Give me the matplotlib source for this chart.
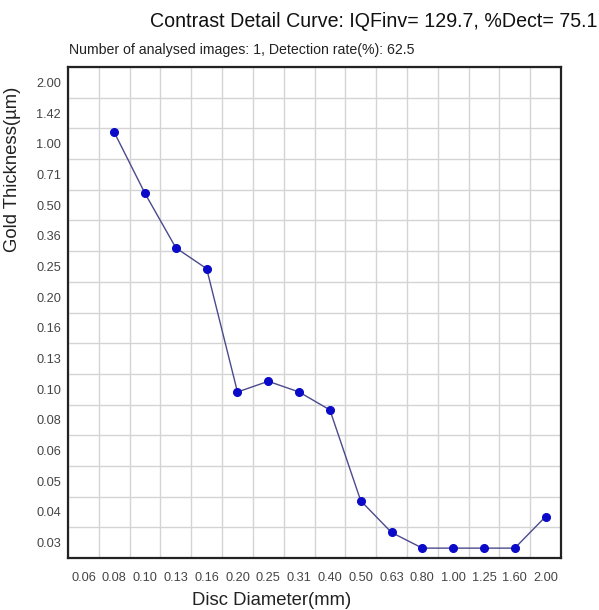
import numpy as np
import matplotlib
matplotlib.use('Agg')
import matplotlib.pyplot as plt
from matplotlib.ticker import FixedLocator

plt.rcParams['font.family'] = ['Liberation Sans', 'DejaVu Sans']

# 横轴：圆盘直径 (mm)，纵轴：金层厚度 (µm)，都是等间距的分类刻度
diam_labels = ['0.06', '0.08', '0.10', '0.13', '0.16', '0.20', '0.25', '0.31',
               '0.40', '0.50', '0.63', '0.80', '1.00', '1.25', '1.60', '2.00']
thick_levels = [0.03, 0.04, 0.05, 0.06, 0.08, 0.10, 0.13, 0.16,
                0.20, 0.25, 0.36, 0.50, 0.71, 1.00, 1.42, 2.00]

# 曲线数据（从图上读出的阈值厚度）
curve_diam = ['0.08', '0.10', '0.13', '0.16', '0.20', '0.25', '0.31', '0.40',
              '0.50', '0.63', '0.80', '1.00', '1.25', '1.60', '2.00']
curve_thick = [1.14, 0.571, 0.312, 0.246, 0.098, 0.107, 0.098, 0.086,
               0.0434, 0.033, 0.0285, 0.0285, 0.0285, 0.0285, 0.0383]


def thick_pos(v):
    # 厚度 -> 分类刻度上的位置（相邻刻度之间按对数插值）
    lv = np.log(thick_levels)
    v = np.log(np.asarray(v))
    pos = np.interp(v, lv, np.arange(len(lv)))
    low = v < lv[0]
    pos[low] = (v[low] - lv[0]) / (lv[1] - lv[0])
    return pos


x = [diam_labels.index(d) for d in curve_diam]
y = thick_pos(curve_thick)

fig = plt.figure(figsize=(5.99, 6.10), dpi=100)
ax = fig.add_axes([68/599, 1-558/610, 493/599, 491/610])

ax.plot(x, y, color='#4a4a8c', lw=1.0, zorder=3)
ax.plot(x, y, 'o', color='#0a0ac8', ms=5.5, zorder=4)

n = len(diam_labels)
ax.set_xlim(-0.5, n-0.5)
ax.set_ylim(-0.5, len(thick_levels)-0.5)
ax.set_xticks(range(n))
ax.set_xticklabels(diam_labels)
ax.set_yticks(range(len(thick_levels)))
ax.set_yticklabels(['%.2f' % t for t in thick_levels])
ax.xaxis.set_minor_locator(FixedLocator(np.arange(-0.5, n, 1.0)))
ax.yaxis.set_minor_locator(FixedLocator(np.arange(-0.5, len(thick_levels), 1.0)))
ax.grid(which='minor', color='#d4d4d4', lw=1.0)
ax.tick_params(which='both', length=0)
ax.tick_params(axis='x', pad=10, labelsize=9.2, labelcolor='#444444')
ax.tick_params(axis='y', pad=5, labelsize=9.2, labelcolor='#444444')
for s in ax.spines.values():
    s.set_color('#222222')
    s.set_linewidth(1.6)

ax.set_xlabel('Disc Diameter(mm)', fontsize=13.3, color='#222222')
ax.xaxis.set_label_coords(0.414, -0.069)
ax.set_ylabel('Gold Thickness(µm)', fontsize=13.3, color='#222222')
ax.yaxis.set_label_coords(-0.095, 0.792)

fig.text(150/599, 1-27/610, 'Contrast Detail Curve: IQFinv= 129.7, %Dect= 75.1',
         fontsize=14.1, color='#111111', va='baseline')
fig.text(69/599, 1-54/610, 'Number of analysed images: 1, Detection rate(%): 62.5',
         fontsize=10.15, color='#222222', va='baseline')

fig.savefig('out.png', dpi=100, facecolor='white')
